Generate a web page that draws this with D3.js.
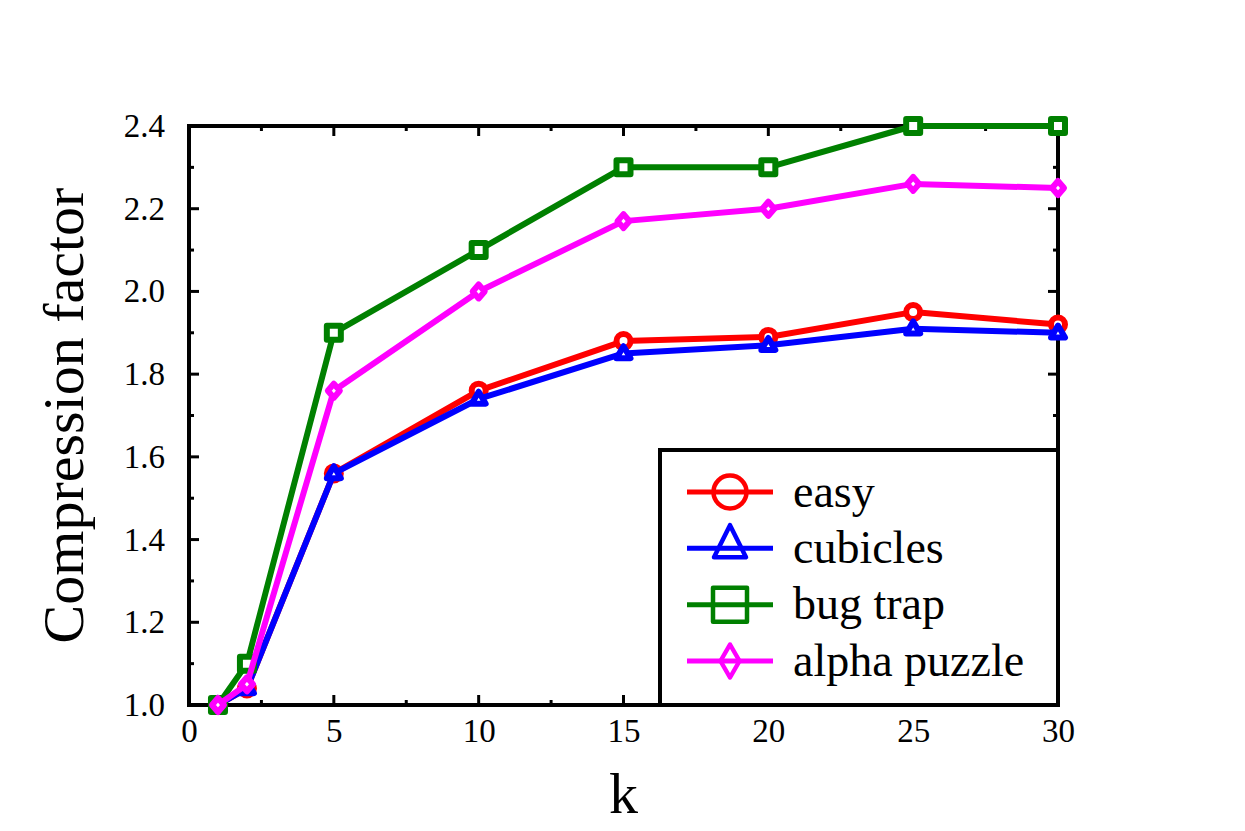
<!DOCTYPE html>
<html>
<head>
<meta charset="utf-8">
<script src="https://cdn.jsdelivr.net/npm/d3@7"></script>
<style>
  body { margin: 0; background: #fff; }
  text { font-family: 'Liberation Serif', 'Times New Roman', serif; fill: #000; }
</style>
</head>
<body>
<svg id="chart"></svg>
<script>
'use strict';

// values
var kValues = [1, 2, 5, 10, 15, 20, 25, 30]
var easy = [1.00, 1.04, 1.56, 1.76, 1.88, 1.89, 1.95, 1.92]
var cubicles = [1.00, 1.04, 1.56, 1.74, 1.85, 1.87, 1.91, 1.90]
var bugTrap = [1.00, 1.10, 1.90, 2.10, 2.30, 2.30, 2.40, 2.40]
var alphaPuzzle = [1.00, 1.05, 1.76, 2.00, 2.17, 2.20, 2.26, 2.25]

var seriesNames = ['easy', 'cubicles', 'bug trap', 'alpha puzzle']
var seriesValues = [easy, cubicles, bugTrap, alphaPuzzle]
var seriesColors = ['#ff0000', '#0000ff', '#008000', '#ff00ff']
var seriesMarkers = ['circle', 'triangle', 'square', 'diamond']

var xTicks = [0, 5, 10, 15, 20, 25, 30]
var yTicks = [1.0, 1.2, 1.4, 1.6, 1.8, 2.0, 2.2, 2.4]

var width = 1245,
  height = 831,
  margin = { left: 189, right: 187, top: 126, bottom: 126 },
  drawWidth = width - margin.left - margin.right,
  drawHeight = height - margin.top - margin.bottom

var svg = d3.select('#chart')
  .attr('width', width)
  .attr('height', height)

var xScale = d3.scaleLinear().domain([0, 30]).range([0, drawWidth])
var yScale = d3.scaleLinear().domain([1.0, 2.4]).range([drawHeight, 0])

var g = svg.append('g')
  .attr('transform', 'translate(' + margin.left + ',' + margin.top + ')')

// marker shapes, centred on 0,0
function markerPath(type, s) {
  var p = d3.path()
  if (type === 'circle') {
    p.arc(0, 0, s.r, 0, 2 * Math.PI)
  } else if (type === 'triangle') {
    p.moveTo(0, -s.h * 0.6)
    p.lineTo(s.w / 2, s.h * 0.4)
    p.lineTo(-s.w / 2, s.h * 0.4)
    p.closePath()
  } else if (type === 'square') {
    p.rect(-s.w / 2, -s.w / 2, s.w, s.w)
  } else {
    p.moveTo(0, -s.h / 2)
    p.lineTo(s.w / 2, 0)
    p.lineTo(0, s.h / 2)
    p.lineTo(-s.w / 2, 0)
    p.closePath()
  }
  return p.toString()
}

var plotSizes = {
  circle: { r: 7 },
  triangle: { w: 14, h: 12 },
  square: { w: 14 },
  diamond: { w: 12, h: 14 }
}
var legendSizes = {
  circle: { r: 16.5 },
  triangle: { w: 32, h: 32 },
  square: { w: 34 },
  diamond: { w: 19, h: 33 }
}

// frame
g.append('rect')
  .attr('width', drawWidth)
  .attr('height', drawHeight)
  .attr('fill', 'none')
  .attr('stroke', '#000')
  .attr('stroke-width', 4)

// inward ticks on all four sides
var xMinor = d3.range(0, 30.01, 2.5)
var yMinor = d3.range(1.0, 2.401, 0.1)

function tickLen(v, step) {
  return Math.abs(v / step - Math.round(v / step)) < 1e-6 ? 10 : 5
}

g.selectAll('.xtick-b').data(xMinor).enter().append('line')
  .attr('x1', function(d) { return xScale(d) })
  .attr('x2', function(d) { return xScale(d) })
  .attr('y1', drawHeight)
  .attr('y2', function(d) { return drawHeight - tickLen(d, 5) })
  .attr('stroke', '#000').attr('stroke-width', 3)

g.selectAll('.xtick-t').data(xMinor).enter().append('line')
  .attr('x1', function(d) { return xScale(d) })
  .attr('x2', function(d) { return xScale(d) })
  .attr('y1', 0)
  .attr('y2', function(d) { return tickLen(d, 5) })
  .attr('stroke', '#000').attr('stroke-width', 3)

g.selectAll('.ytick-l').data(yMinor).enter().append('line')
  .attr('y1', function(d) { return yScale(d) })
  .attr('y2', function(d) { return yScale(d) })
  .attr('x1', 0)
  .attr('x2', function(d) { return tickLen(d - 1, 0.2) })
  .attr('stroke', '#000').attr('stroke-width', 3)

g.selectAll('.ytick-r').data(yMinor).enter().append('line')
  .attr('y1', function(d) { return yScale(d) })
  .attr('y2', function(d) { return yScale(d) })
  .attr('x1', drawWidth)
  .attr('x2', function(d) { return drawWidth - tickLen(d - 1, 0.2) })
  .attr('stroke', '#000').attr('stroke-width', 3)

// tick labels through d3 axes, tick lines hidden
var xAxis = d3.axisBottom(xScale).tickValues(xTicks).tickSize(0).tickPadding(14)
  .tickFormat(d3.format('d'))
var yAxis = d3.axisLeft(yScale).tickValues(yTicks).tickSize(0).tickPadding(24)
  .tickFormat(d3.format('.1f'))

var xAxisG = g.append('g')
  .attr('transform', 'translate(0,' + drawHeight + ')')
  .call(xAxis)
var yAxisG = g.append('g').call(yAxis)

;[xAxisG, yAxisG].forEach(function(a) {
  a.select('.domain').remove()
  a.selectAll('text')
    .attr('font-family', "'Liberation Serif', 'Times New Roman', serif")
    .attr('font-size', 33)
    .attr('fill', '#000')
})
xAxisG.selectAll('text').attr('dy', '0.71em')

// axis titles
svg.append('text')
  .attr('transform', 'translate(83,' + (margin.top + drawHeight / 2) + ') rotate(-90)')
  .attr('text-anchor', 'middle')
  .attr('font-size', 58)
  .text('Compression factor')

svg.append('text')
  .attr('x', margin.left + drawWidth / 2)
  .attr('y', 813)
  .attr('text-anchor', 'middle')
  .attr('font-size', 58)
  .text('k')

// series
var line = d3.line()
  .x(function(d) { return xScale(d.k) })
  .y(function(d) { return yScale(d.v) })

var series = seriesNames.map(function(name, i) {
  return {
    name: name,
    color: seriesColors[i],
    marker: seriesMarkers[i],
    points: kValues.map(function(k, j) { return { k: k, v: seriesValues[i][j] } })
  }
})

series.forEach(function(s) {
  var sg = g.append('g')
  sg.append('path')
    .datum(s.points)
    .attr('d', line)
    .attr('fill', 'none')
    .attr('stroke', s.color)
    .attr('stroke-width', 6)
    .attr('stroke-linejoin', 'round')

  sg.selectAll('.pt').data(s.points).enter().append('path')
    .attr('transform', function(d) {
      return 'translate(' + xScale(d.k) + ',' + yScale(d.v) + ')'
    })
    .attr('d', markerPath(s.marker, plotSizes[s.marker]))
    .attr('fill', '#fff')
    .attr('stroke', s.color)
    .attr('stroke-width', 6)
    .attr('stroke-linejoin', 'round')
})

// legend
var legendG = svg.append('g')
legendG.append('rect')
  .attr('x', 660)
  .attr('y', 450)
  .attr('width', margin.left + drawWidth - 660)
  .attr('height', margin.top + drawHeight - 450)
  .attr('fill', '#fff')
  .attr('stroke', '#000')
  .attr('stroke-width', 4)

var rowY = d3.scalePoint().domain(seriesNames).range([492, 661])

series.forEach(function(s) {
  var y = rowY(s.name)
  legendG.append('line')
    .attr('x1', 687).attr('x2', 773)
    .attr('y1', y).attr('y2', y)
    .attr('stroke', s.color)
    .attr('stroke-width', 5)
  legendG.append('path')
    .attr('transform', 'translate(730,' + (s.marker === 'triangle' ? y - 4 : y) + ')')
    .attr('d', markerPath(s.marker, legendSizes[s.marker]))
    .attr('fill', 'none')
    .attr('stroke', s.color)
    .attr('stroke-width', 4.5)
    .attr('stroke-linejoin', 'round')
  legendG.append('text')
    .attr('x', 793)
    .attr('y', y)
    .attr('dy', '0.32em')
    .attr('font-size', 46)
    .text(s.name)
})
</script>
</body>
</html>
